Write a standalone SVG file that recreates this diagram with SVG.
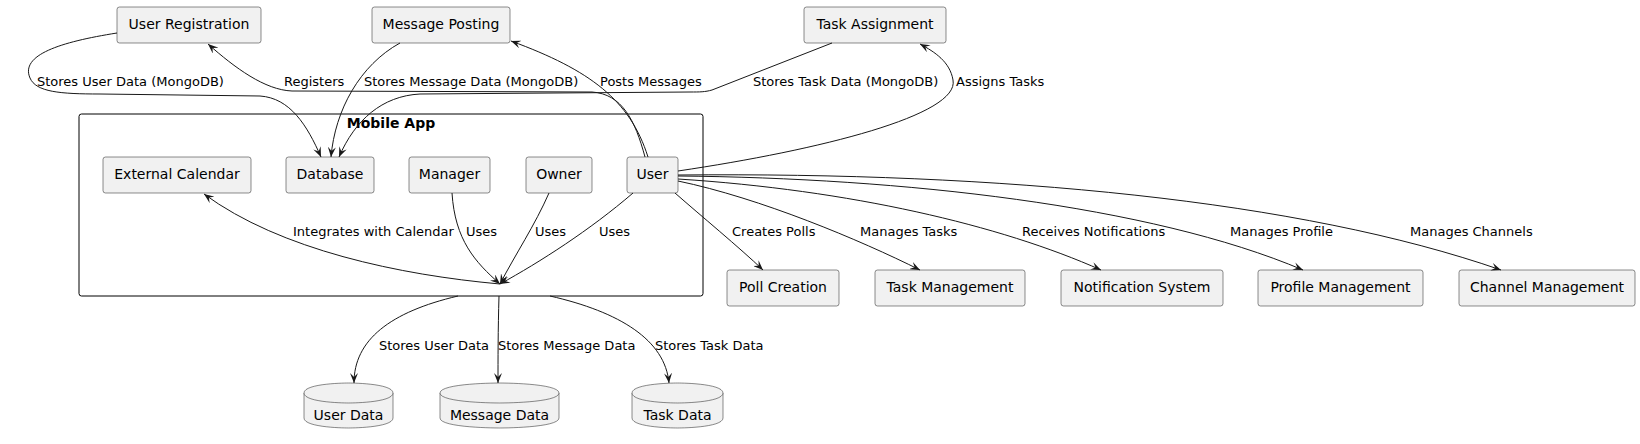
<svg xmlns="http://www.w3.org/2000/svg" width="1640" height="444" viewBox="0 0 1640 444">
<style>
  .node { fill: #F1F1F1; stroke: #181818; stroke-width: 0.5; }
  .nt { font-family: "DejaVu Sans", sans-serif; font-size: 14px; fill: #000; text-anchor: middle; }
  .lbl { font-family: "DejaVu Sans", sans-serif; font-size: 13px; fill: #000; }
  .edge { fill: none; stroke: #181818; stroke-width: 1; }
  .arr { marker-end: url(#ah); }
  .frame { fill: none; stroke: #000; stroke-width: 1; }
  .title { font-family: "DejaVu Sans", sans-serif; font-size: 14px; font-weight: bold; fill: #000; text-anchor: middle; }
</style>
<defs>
  <marker id="ah" markerUnits="userSpaceOnUse" viewBox="0 0 10 8" refX="10" refY="4" markerWidth="10" markerHeight="8" orient="auto">
    <path d="M10,4 L0,0 L4,4 L0,8 Z" fill="#181818"/>
  </marker>
</defs>
<rect width="1640" height="444" fill="#FFFFFF"/>

<g id="mobile-app">
  <rect class="frame" x="79" y="114" width="624" height="182" rx="2.5"/>
  <text class="title" x="391" y="128">Mobile App</text>
</g>

<g id="user-registration"><rect class="node" x="117" y="7" width="144" height="36" rx="2.5"/><text class="nt" x="189" y="29">User Registration</text></g>
<g id="message-posting"><rect class="node" x="372" y="7" width="138" height="36" rx="2.5"/><text class="nt" x="441" y="29">Message Posting</text></g>
<g id="task-assignment"><rect class="node" x="804" y="7" width="142" height="36" rx="2.5"/><text class="nt" x="875" y="29">Task Assignment</text></g>

<g id="external-calendar"><rect class="node" x="103" y="157" width="148" height="36" rx="2.5"/><text class="nt" x="177" y="179">External Calendar</text></g>
<g id="database"><rect class="node" x="286" y="157" width="88" height="36" rx="2.5"/><text class="nt" x="330" y="179">Database</text></g>
<g id="manager"><rect class="node" x="409" y="157" width="81" height="36" rx="2.5"/><text class="nt" x="449.5" y="179">Manager</text></g>
<g id="owner"><rect class="node" x="526" y="157" width="66" height="36" rx="2.5"/><text class="nt" x="559" y="179">Owner</text></g>
<g id="user"><rect class="node" x="627" y="157" width="51" height="36" rx="2.5"/><text class="nt" x="652.5" y="179">User</text></g>

<g id="poll-creation"><rect class="node" x="727" y="270" width="112" height="36" rx="2.5"/><text class="nt" x="783" y="292">Poll Creation</text></g>
<g id="task-management"><rect class="node" x="875" y="270" width="150" height="36" rx="2.5"/><text class="nt" x="950" y="292">Task Management</text></g>
<g id="notification-system"><rect class="node" x="1061" y="270" width="162" height="36" rx="2.5"/><text class="nt" x="1142" y="292">Notification System</text></g>
<g id="profile-management"><rect class="node" x="1258" y="270" width="165" height="36" rx="2.5"/><text class="nt" x="1340.5" y="292">Profile Management</text></g>
<g id="channel-management"><rect class="node" x="1459" y="270" width="176" height="36" rx="2.5"/><text class="nt" x="1547" y="292">Channel Management</text></g>

<g id="user-data">
  <path class="node" d="M304,393 C304,383 348.5,383 348.5,383 C348.5,383 393,383 393,393 L393,418 C393,428 348.5,428 348.5,428 C348.5,428 304,428 304,418 Z"/>
  <path class="node" fill="none" d="M304,393 C304,403 348.5,403 348.5,403 C348.5,403 393,403 393,393"/>
  <text class="nt" x="348.5" y="420">User Data</text>
</g>
<g id="message-data">
  <path class="node" d="M440,393 C440,383 499.5,383 499.5,383 C499.5,383 559,383 559,393 L559,418 C559,428 499.5,428 499.5,428 C499.5,428 440,428 440,418 Z"/>
  <path class="node" fill="none" d="M440,393 C440,403 499.5,403 499.5,403 C499.5,403 559,403 559,393"/>
  <text class="nt" x="499.5" y="420">Message Data</text>
</g>
<g id="task-data">
  <path class="node" d="M632,393 C632,383 677.5,383 677.5,383 C677.5,383 723,383 723,393 L723,418 C723,428 677.5,428 677.5,428 C677.5,428 632,428 632,418 Z"/>
  <path class="node" fill="none" d="M632,393 C632,403 677.5,403 677.5,403 C677.5,403 723,403 723,393"/>
  <text class="nt" x="677.5" y="420">Task Data</text>
</g>

<g id="connectors">
  <path class="edge arr" d="M117,33 C60,42 20,55 30,78 C36,92 60,94 100,94 L260,96 C290,98 307,125 321,157"/>
  <path class="edge arr" d="M400,43 C360,65 335,110 331,157"/>
  <path class="edge arr" d="M832,43 L712,90 C705,92 700,92 690,92 L420,94 C382,96 355,120 339,157"/>
  <path class="edge arr" d="M645,157 C635,120 622,94 592,92 L292,91 C265,90 235,68 208,44"/>
  <path class="edge arr" d="M648,157 C630,100 590,70 511,41"/>
  <path class="edge arr" d="M678,171 C820,150 960,115 953,80 C950,62 935,52 920,44"/>

  <path class="edge arr" d="M452,193 C455,240 475,262 500,284"/>
  <path class="edge arr" d="M549,193 C535,225 515,255 500,284"/>
  <path class="edge arr" d="M633,193 C590,230 540,262 500,284"/>
  <path class="edge arr" d="M500,284 C400,275 280,250 204,194"/>

  <path class="edge arr" d="M458,296 C390,312 354,340 354,383"/>
  <path class="edge arr" d="M499,296 C498,330 498,360 498,383"/>
  <path class="edge arr" d="M550,296 C620,312 665,340 669,383"/>

  <path class="edge arr" d="M675,193 C700,215 740,248 763,270"/>
  <path class="edge arr" d="M678,181 C760,198 860,240 920,270"/>
  <path class="edge arr" d="M678,179 C850,190 1000,225 1101,270"/>
  <path class="edge arr" d="M678,176 C900,178 1150,205 1303,270"/>
  <path class="edge arr" d="M678,175 C1000,172 1300,200 1501,270"/>

  <text class="lbl" x="37" y="86">Stores User Data (MongoDB)</text>
  <text class="lbl" x="284" y="86">Registers</text>
  <text class="lbl" x="364" y="86">Stores Message Data (MongoDB)</text>
  <text class="lbl" x="600" y="86">Posts Messages</text>
  <text class="lbl" x="753" y="86">Stores Task Data (MongoDB)</text>
  <text class="lbl" x="956" y="86">Assigns Tasks</text>
  <text class="lbl" x="293" y="236">Integrates with Calendar</text>
  <text class="lbl" x="466" y="236">Uses</text>
  <text class="lbl" x="535" y="236">Uses</text>
  <text class="lbl" x="599" y="236">Uses</text>
  <text class="lbl" x="732" y="236">Creates Polls</text>
  <text class="lbl" x="860" y="236">Manages Tasks</text>
  <text class="lbl" x="1022" y="236">Receives Notifications</text>
  <text class="lbl" x="1230" y="236">Manages Profile</text>
  <text class="lbl" x="1410" y="236">Manages Channels</text>
  <text class="lbl" x="379" y="350">Stores User Data</text>
  <text class="lbl" x="498" y="350">Stores Message Data</text>
  <text class="lbl" x="655" y="350">Stores Task Data</text>
</g>
</svg>
